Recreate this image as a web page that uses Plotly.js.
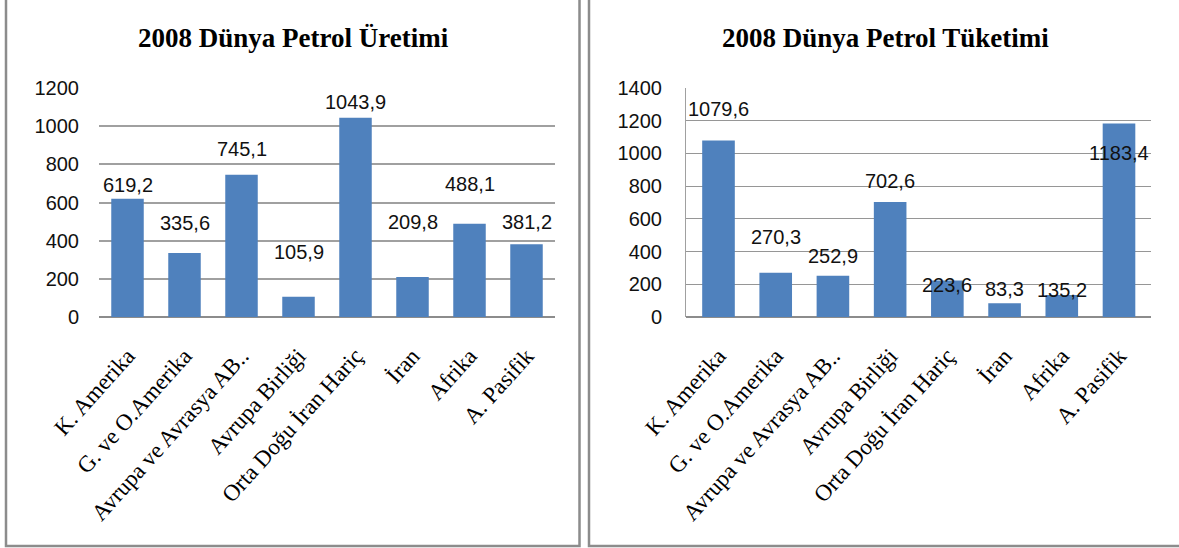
<!DOCTYPE html>
<html>
<head>
<meta charset="utf-8">
<script src="https://cdn.plot.ly/plotly-3.0.1.min.js"></script>
<style>
  html, body { margin: 0; padding: 0; background: #fff; }
  #chart { width: 1179px; height: 548px; }
</style>
</head>
<body>
<div id="chart"></div>
<script>
// ---- data ----
const categories = ["K. Amerika", "G. ve O.Amerika", "Avrupa ve Avrasya AB..", "Avrupa Birliği",
                    "Orta Doğu İran Hariç", "İran", "Afrika", "A. Pasifik"];
const uretim  = [619.2, 335.6, 745.1, 105.9, 1043.9, 209.8, 488.1, 381.2];
const tuketim = [1079.6, 270.3, 252.9, 702.6, 223.6, 83.3, 135.2, 1183.4];
const leftTitle  = "2008 Dünya Petrol Üretimi";
const rightTitle = "2008 Dünya Petrol Tüketimi";
const leftTicks  = [0, 200, 400, 600, 800, 1000, 1200];
const rightTicks = [0, 200, 400, 600, 800, 1000, 1200, 1400];

// ---- label placement (pixel offsets of the data labels, as placed in the original) ----
const leftLabelShift  = [14, 30, 26, 45, 16, 55, 40, 22];
const rightLabelShift = [31, 36, 20, 21, -5, 14, 5, -30];

// ---- styles ----
const W = 1179, H = 548;
const px = v => v / W;
const py = v => 1 - v / H;
const BAR = "#4F81BD";
const SANS = "Liberation Sans, Arial, sans-serif";
const SERIF = "Liberation Serif, Times New Roman, serif";
const fmt = v => v.toFixed(1).replace(".", ",");

const traces = [
  { type: "bar", x: categories, y: uretim, xaxis: "x", yaxis: "y",
    marker: { color: BAR }, hoverinfo: "none" },
  { type: "bar", x: categories, y: tuketim, xaxis: "x2", yaxis: "y2",
    marker: { color: BAR }, hoverinfo: "none" }
];

const annotations = [];
uretim.forEach((v, i) => annotations.push({
  x: categories[i], y: v, xref: "x", yref: "y", text: fmt(v), showarrow: false,
  yanchor: "middle", yshift: leftLabelShift[i], font: { family: SANS, size: 20, color: "#111" }
}));
tuketim.forEach((v, i) => annotations.push({
  x: categories[i], y: v, xref: "x2", yref: "y2", text: fmt(v), showarrow: false,
  yanchor: "middle", yshift: rightLabelShift[i], font: { family: SANS, size: 20, color: "#111" }
}));
annotations.push({ x: px(293.5), y: py(38), xref: "paper", yref: "paper", text: "<b>" + leftTitle + "</b>",
  showarrow: false, xanchor: "center", yanchor: "middle", font: { family: SERIF, size: 27, color: "#000" } });
annotations.push({ x: px(885), y: py(38), xref: "paper", yref: "paper", text: "<b>" + rightTitle + "</b>",
  showarrow: false, xanchor: "center", yanchor: "middle", font: { family: SERIF, size: 27, color: "#000" } });

const xCommon = {
  type: "category", tickangle: -48, ticks: "", showgrid: false, zeroline: false,
  tickfont: { family: SERIF, size: 23, color: "#000" }, ticklabelstandoff: 20, fixedrange: true
};
const yCommon = {
  tickfont: { family: SANS, size: 20, color: "#111" }, ticks: "", ticklabelstandoff: 19,
  zeroline: true, fixedrange: true
};

const layout = {
  width: W, height: H,
  margin: { l: 0, r: 0, t: 0, b: 0 },
  paper_bgcolor: "#fff", plot_bgcolor: "#fff",
  showlegend: false, bargap: 0.43,
  xaxis: Object.assign({}, xCommon, { domain: [px(99), px(555)], anchor: "y", showline: false }),
  yaxis: Object.assign({}, yCommon, { domain: [py(317), py(88)], anchor: "x", range: [0, 1200],
    tickvals: leftTicks, showgrid: true, gridcolor: "#a0a0a0", gridwidth: 2,
    zerolinecolor: "#8c8c8c", zerolinewidth: 2, showline: false }),
  xaxis2: Object.assign({}, xCommon, { domain: [px(686), px(1151)], anchor: "y2", showline: false }),
  yaxis2: Object.assign({}, yCommon, { domain: [py(317), py(88)], anchor: "x2", range: [0, 1400],
    tickvals: rightTicks, showgrid: true, gridcolor: "#969696", gridwidth: 1,
    zerolinecolor: "#8c8c8c", zerolinewidth: 1.5, showline: true, linecolor: "#a0a0a0", linewidth: 1 }),
  annotations: annotations,
  shapes: [
    { type: "rect", xref: "paper", yref: "paper", x0: px(6), x1: px(579.5), y0: py(546), y1: py(-10),
      line: { color: "#8c8c8c", width: 2.5 }, fillcolor: "rgba(0,0,0,0)" },
    { type: "rect", xref: "paper", yref: "paper", x0: px(589), x1: px(1190), y0: py(546), y1: py(-10),
      line: { color: "#8c8c8c", width: 2.5 }, fillcolor: "rgba(0,0,0,0)" }
  ]
};

Plotly.newPlot("chart", traces, layout, { displayModeBar: false, staticPlot: true });
</script>
</body>
</html>
